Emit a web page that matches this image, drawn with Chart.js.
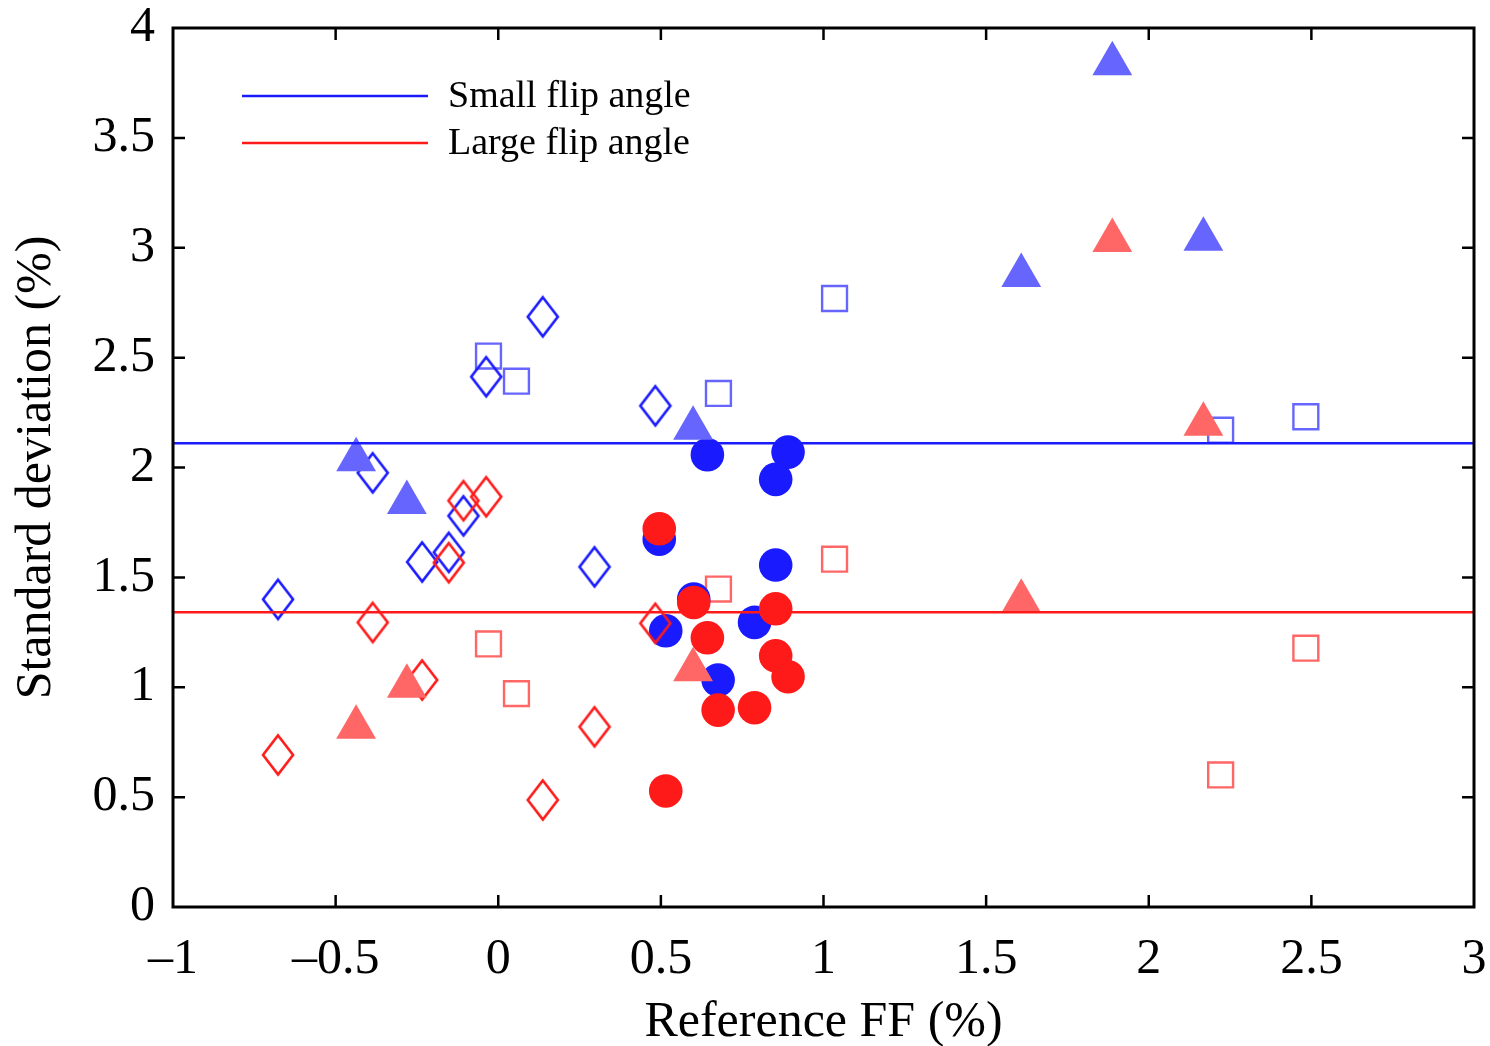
<!DOCTYPE html>
<html>
<head>
<meta charset="utf-8">
<script src="https://cdn.jsdelivr.net/npm/chart.js@4.4.1/dist/chart.umd.min.js"></script>
<style>
  html, body { margin: 0; padding: 0; background: #ffffff; }
  #wrap { width: 1490px; height: 1046px; }
</style>
</head>
<body>
<div id="wrap"><canvas id="c" width="1490" height="1046"></canvas></div>
<script>
// ---------- data ----------
const xTickLabels = ['\u20131', '\u20130.5', '0', '0.5', '1', '1.5', '2', '2.5', '3'];
const yTickLabels = ['0', '0.5', '1', '1.5', '2', '2.5', '3', '3.5', '4'];

const seriesNames = ['Small flip angle', 'Large flip angle'];
const meanSmall = 2.110;
const meanLarge = 1.341;
const meanLineX = [-1, 3];

const diamondX     = [-0.677, -0.386, -0.234, -0.152, -0.107, -0.037, 0.137, 0.296, 0.483];
const diamondSmall = [ 1.400,  1.976,  1.570,  1.614,  1.780,  2.413, 2.686, 1.548, 2.281];
const diamondLarge = [ 0.692,  1.295,  1.033,  1.567,  1.849,  1.867, 0.487, 0.820, 1.291];

const circleX      = [0.495, 0.515, 0.601, 0.643, 0.676, 0.788, 0.853, 0.853, 0.891];
const circleSmall  = [1.674, 1.257, 1.401, 2.058, 1.033, 1.295, 1.946, 1.556, 2.070];
const circleLarge  = [1.721, 0.528, 1.386, 1.225, 0.896, 0.907, 1.357, 1.143, 1.048];

const triX         = [-0.437, -0.281, 0.599, 1.608, 1.888, 2.168];
const triSmall     = [ 2.035,  1.841, 2.179, 2.874, 3.837, 3.039];
const triLarge     = [ 0.818,  1.004, 1.080, 1.391, 3.033, 2.197];

const sqX          = [-0.030, 0.056, 0.677, 1.034, 2.221, 2.483];
const sqSmall      = [ 2.507, 2.393, 2.337, 2.769, 2.170, 2.231];
const sqLarge      = [ 1.197, 0.971, 1.447, 1.583, 0.601, 1.178];

// ---------- styles ----------
const BLUE = '#1a1aff', RED = '#ff1a1a';
const LBLUE = '#6666ff', LRED = '#ff6666';
const FONT = "'Liberation Serif', 'Times New Roman', serif";

function pts(xs, ys) { return xs.map((v, i) => ({ x: v, y: ys[i] })); }

function makeDiamond(color) {
  const c = document.createElement('canvas');
  c.width = 38; c.height = 48;
  const g = c.getContext('2d');
  g.strokeStyle = color; g.lineWidth = 2.6; g.lineJoin = 'miter';
  g.beginPath();
  g.moveTo(19, 4.5); g.lineTo(34, 24); g.lineTo(19, 43.5); g.lineTo(4, 24);
  g.closePath(); g.stroke();
  return c;
}
const diamondBlue = makeDiamond(BLUE);
const diamondRed = makeDiamond(RED);

function markerSet(label, data, style) {
  return Object.assign({ label, data, showLine: false, inLegend: false }, style);
}

const datasets = [
  { label: seriesNames[0], data: pts(meanLineX, [meanSmall, meanSmall]), type: 'line',
    borderColor: BLUE, borderWidth: 2.5, pointRadius: 0, fill: false, inLegend: true },
  { label: seriesNames[1], data: pts(meanLineX, [meanLarge, meanLarge]), type: 'line',
    borderColor: RED, borderWidth: 2.5, pointRadius: 0, fill: false, inLegend: true },
  markerSet('tri small', pts(triX, triSmall), { pointStyle: 'triangle', pointRadius: 23, backgroundColor: LBLUE, borderWidth: 0, borderColor: LBLUE }),
  markerSet('tri large', pts(triX, triLarge), { pointStyle: 'triangle', pointRadius: 23, backgroundColor: LRED, borderWidth: 0, borderColor: LRED }),
  markerSet('diamond large', pts(diamondX, diamondLarge), { pointStyle: diamondRed, pointRadius: 20 }),
  markerSet('diamond small', pts(diamondX, diamondSmall), { pointStyle: diamondBlue, pointRadius: 20 }),
  markerSet('circle large', pts(circleX, circleLarge), { pointStyle: 'circle', pointRadius: 16.8, backgroundColor: RED, borderWidth: 0, borderColor: RED }),
  markerSet('circle small', pts(circleX, circleSmall), { pointStyle: 'circle', pointRadius: 16.8, backgroundColor: BLUE, borderWidth: 0, borderColor: BLUE }),
  markerSet('square small', pts(sqX, sqSmall), { pointStyle: 'rect', pointRadius: 17.6, backgroundColor: 'rgba(0,0,0,0)', borderWidth: 2.4, borderColor: LBLUE }),
  markerSet('square large', pts(sqX, sqLarge), { pointStyle: 'rect', pointRadius: 17.6, backgroundColor: 'rgba(0,0,0,0)', borderWidth: 2.4, borderColor: LRED })
];

const framePlugin = {
  id: 'frame',
  afterDatasetsDraw(chart) {
    const { ctx, chartArea: a, scales: { x, y } } = chart;
    ctx.save();
    ctx.strokeStyle = '#000';
    ctx.lineWidth = 2.5;
    const T = 12;
    ctx.beginPath();
    x.ticks.forEach(t => {
      const px = x.getPixelForValue(t.value);
      if (px <= a.left + 2 || px >= a.right - 2) return;
      ctx.moveTo(px, a.bottom); ctx.lineTo(px, a.bottom - T);
      ctx.moveTo(px, a.top); ctx.lineTo(px, a.top + T);
    });
    y.ticks.forEach(t => {
      const py = y.getPixelForValue(t.value);
      if (py <= a.top + 2 || py >= a.bottom - 2) return;
      ctx.moveTo(a.left, py); ctx.lineTo(a.left + T, py);
      ctx.moveTo(a.right, py); ctx.lineTo(a.right - T, py);
    });
    ctx.stroke();
    ctx.lineWidth = 3;
    ctx.strokeRect(a.left, a.top, a.right - a.left, a.bottom - a.top);
    ctx.restore();
  }
};

const legendPlugin = {
  id: 'insideLegend',
  afterDraw(chart) {
    const { ctx, chartArea: a } = chart;
    ctx.save();
    ctx.font = '38px ' + FONT;
    ctx.textBaseline = 'middle';
    ctx.textAlign = 'left';
    let row = 0;
    chart.data.datasets.forEach(ds => {
      if (!ds.inLegend) return;
      const yy = a.top + 68 + row * 47;
      ctx.strokeStyle = ds.borderColor;
      ctx.lineWidth = 2.5;
      ctx.beginPath();
      ctx.moveTo(a.left + 69, yy); ctx.lineTo(a.left + 255, yy);
      ctx.stroke();
      ctx.fillStyle = '#000';
      ctx.fillText(ds.label, a.left + 275, yy + 1);
      row++;
    });
    ctx.restore();
  }
};

new Chart(document.getElementById('c'), {
  type: 'scatter',
  data: { datasets },
  options: {
    responsive: false,
    devicePixelRatio: 1,
    animation: false,
    layout: { autoPadding: false, padding: { top: 28, right: 16, left: 0, bottom: 0 } },
    plugins: { legend: { display: false }, tooltip: { enabled: false } },
    scales: {
      x: {
        type: 'linear', min: -1, max: 3,
        grid: { display: false, drawTicks: false },
        border: { display: false },
        ticks: {
          stepSize: 0.5, autoSkip: false, maxRotation: 0, padding: 23,
          color: '#000', font: { family: FONT, size: 50 },
          callback: (v, i) => xTickLabels[i]
        },
        title: { display: true, text: 'Reference FF (%)', color: '#000',
                 font: { family: FONT, size: 50 }, padding: { top: 0, bottom: -7 } },
        afterFit(s) { s.height = 139; s.paddingLeft = 0; s.paddingRight = 0; }
      },
      y: {
        type: 'linear', min: 0, max: 4,
        grid: { display: false, drawTicks: false },
        border: { display: false },
        ticks: {
          stepSize: 0.5, autoSkip: false, padding: 18,
          color: '#000', font: { family: FONT, size: 50 },
          callback: (v, i) => yTickLabels[i]
        },
        title: { display: true, text: 'Standard deviation (%)', color: '#000',
                 font: { family: FONT, size: 50 }, padding: { top: 7, bottom: 0 } },
        afterFit(s) { s.width = 173; s.paddingTop = 0; s.paddingBottom = 0; }
      }
    }
  },
  plugins: [framePlugin, legendPlugin]
});
</script>
</body>
</html>
